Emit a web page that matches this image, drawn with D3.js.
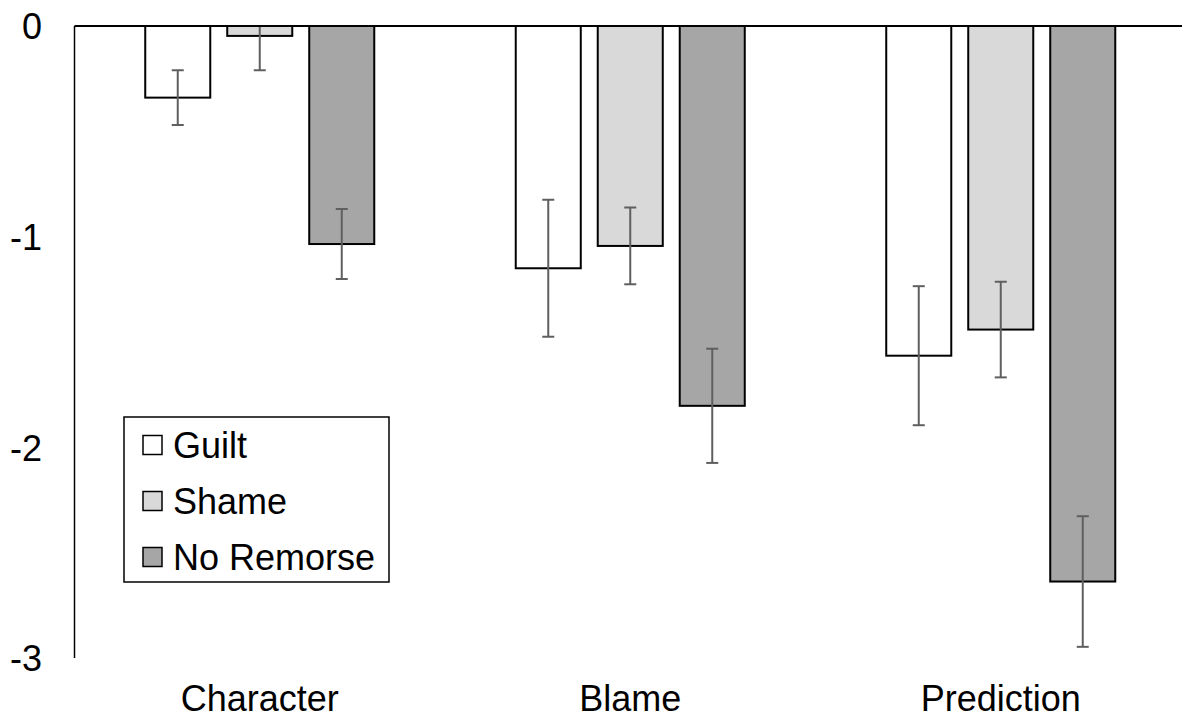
<!DOCTYPE html>
<html>
<head>
<meta charset="utf-8">
<script src="https://cdn.jsdelivr.net/npm/d3@7"></script>
<style>
  html, body { margin: 0; padding: 0; background: #fff; }
  svg { display: block; font-family: "Liberation Sans", Arial, sans-serif; }
</style>
</head>
<body>
<svg id="chart" width="1182" height="719"></svg>
<script>
// Mean ratings per measure and condition, with standard errors
const categories = ["Character", "Blame", "Prediction"];
const seriesNames = ["Guilt", "Shame", "No Remorse"];
const guiltMeans = [-0.34, -1.15, -1.565];
const shameMeans = [-0.047, -1.044, -1.441];
const noRemorseMeans = [-1.035, -1.803, -2.637];
const guiltErrors = [0.13, 0.325, 0.33];
const shameErrors = [0.163, 0.182, 0.227];
const noRemorseErrors = [0.166, 0.271, 0.31];
const yTicks = [0, -1, -2, -3];

const seriesFills = ["#ffffff", "#d9d9d9", "#a6a6a6"];
const meansBySeries = [guiltMeans, shameMeans, noRemorseMeans];
const errorsBySeries = [guiltErrors, shameErrors, noRemorseErrors];
const fontSize = 36;

const rows = [];
categories.forEach((c, ci) => {
  seriesNames.forEach((s, si) => {
    rows.push({ category: c, series: s, si, value: meansBySeries[si][ci], err: errorsBySeries[si][ci] });
  });
});

const svg = d3.select("#chart");
const plotLeft = 74.5, plotRight = 1186, plotTop = 26, plotBottom = 658;

const x = d3.scaleBand().domain(categories).range([plotLeft, plotRight]).paddingInner(0).paddingOuter(0);
const xInner = d3.scaleBand().domain(seriesNames).range([0, x.bandwidth()])
  .paddingInner(0.207).paddingOuter(0.8627);
const y = d3.scaleLinear().domain([-3, 0]).range([plotBottom, plotTop]);

// clip marks to the plot area (values above zero are hidden)
svg.append("defs").append("clipPath").attr("id", "plotClip")
  .append("rect").attr("x", plotLeft).attr("y", plotTop)
  .attr("width", plotRight - plotLeft).attr("height", plotBottom - plotTop);

const marks = svg.append("g").attr("clip-path", "url(#plotClip)");

// bars hang down from the zero line
marks.selectAll("rect.bar").data(rows).join("rect")
  .attr("class", "bar")
  .attr("x", d => x(d.category) + xInner(d.series))
  .attr("y", d => y(0))
  .attr("width", xInner.bandwidth())
  .attr("height", d => y(d.value) - y(0))
  .attr("fill", d => seriesFills[d.si])
  .attr("stroke", "#000")
  .attr("stroke-width", 2);

// error bars (±1 SE)
const capHalf = 6;
const eb = marks.selectAll("g.err").data(rows).join("g").attr("class", "err")
  .attr("stroke", "#5f5f5f").attr("stroke-width", 2);
eb.append("line")
  .attr("x1", d => x(d.category) + xInner(d.series) + xInner.bandwidth() / 2)
  .attr("x2", d => x(d.category) + xInner(d.series) + xInner.bandwidth() / 2)
  .attr("y1", d => y(d.value + d.err))
  .attr("y2", d => y(d.value - d.err));
[1, -1].forEach(sign => {
  eb.append("line")
    .attr("x1", d => x(d.category) + xInner(d.series) + xInner.bandwidth() / 2 - capHalf)
    .attr("x2", d => x(d.category) + xInner(d.series) + xInner.bandwidth() / 2 + capHalf)
    .attr("y1", d => y(d.value + sign * d.err))
    .attr("y2", d => y(d.value + sign * d.err));
});

// axes: zero line on top, value axis on the left
svg.append("line").attr("x1", plotLeft).attr("x2", plotRight)
  .attr("y1", y(0)).attr("y2", y(0)).attr("stroke", "#000").attr("stroke-width", 2);
svg.append("line").attr("x1", plotLeft).attr("x2", plotLeft)
  .attr("y1", plotTop).attr("y2", plotBottom).attr("stroke", "#000").attr("stroke-width", 1.5);

const yAxis = d3.axisLeft(y).tickValues(yTicks).tickSize(0).tickPadding(0).tickFormat(d => String(d));
const yg = svg.append("g").attr("transform", "translate(42,0)").call(yAxis);
yg.select(".domain").remove();
yg.selectAll("text").attr("font-size", fontSize).attr("fill", "#000")
  .attr("font-family", "'Liberation Sans', Arial, sans-serif").attr("dy", "0.36em");

// category labels below the plot
const xAxis = d3.axisBottom(x).tickSize(0).tickPadding(0);
const xg = svg.append("g").attr("transform", "translate(0,685)").call(xAxis);
xg.select(".domain").remove();
xg.selectAll("text").attr("font-size", fontSize).attr("fill", "#000")
  .attr("font-family", "'Liberation Sans', Arial, sans-serif").attr("dy", "0.72em");

// legend
const legend = svg.append("g").attr("transform", "translate(124,417)");
legend.append("rect").attr("width", 265).attr("height", 165)
  .attr("fill", "#fff").attr("stroke", "#000").attr("stroke-width", 1.5);
const li = legend.selectAll("g.item").data(seriesNames).join("g").attr("class", "item")
  .attr("transform", (d, i) => `translate(19,${28 + i * 56})`);
li.append("rect").attr("x", 0).attr("y", -9.5).attr("width", 19).attr("height", 19)
  .attr("fill", (d, i) => seriesFills[i]).attr("stroke", "#000").attr("stroke-width", 1.5);
li.append("text").attr("x", 30).attr("y", 0).attr("dy", "0.36em")
  .attr("font-size", fontSize).attr("fill", "#000").text(d => d);
</script>
</body>
</html>
